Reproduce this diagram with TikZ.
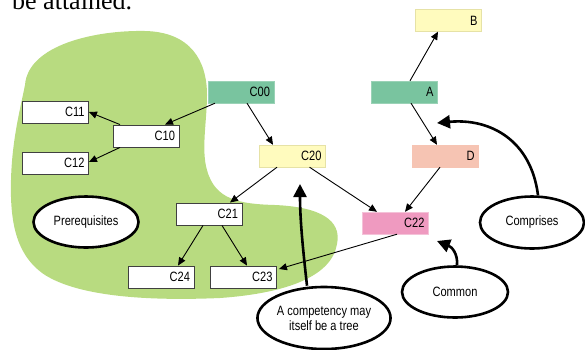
\documentclass[tikz,border=0pt]{standalone}
\usepackage{fontspec}
\setmainfont{Liberation Serif}
\newfontfamily\boxfont{Liberation Sans}[FakeStretch=0.82]
\usetikzlibrary{arrows.meta,shapes.geometric}

\definecolor{blobgreen}{HTML}{B8DB80}
\definecolor{tealbox}{HTML}{79C49F}
\definecolor{tealedge}{HTML}{9AD2B6}
\definecolor{yellowbox}{HTML}{FFFBBE}
\definecolor{yellowedge}{HTML}{E6E2A6}
\definecolor{salmonbox}{HTML}{F6C4B3}
\definecolor{pinkbox}{HTML}{EF9AC0}
\definecolor{pinkedge}{HTML}{F4C2D8}
\definecolor{boxgray}{HTML}{404040}

\begin{document}
\begin{tikzpicture}[x=1pt,y=-1pt,
  box/.style={minimum height=22pt, text width=58pt, align=right,
    inner xsep=4pt, inner ysep=2pt, font=\boxfont\fontsize{13.5}{14}\selectfont},
  wbox/.style={box, fill=white, draw=boxgray, line width=0.9pt},
  bubble/.style={ellipse, draw=black, line width=2.6pt, fill=white, inner sep=0pt,
    align=center, font=\boxfont\fontsize{13.5}{15}\selectfont},
  thin/.style={-{Triangle[length=8pt,width=7pt]}, line width=0.9pt},
  thick/.style={-{Triangle[length=13pt,width=13pt]}, line width=2.6pt}]

\useasboundingbox (0,0) rectangle (585,349);

%%%%%%%%%%%%%%%%%%%%%%%%%%%% text above %%%%%%%%%%%%%%%%%%%%
\node[anchor=base west, inner sep=0pt, font=\fontsize{26}{28}\selectfont] (caption) at (12,9) {be attained.};

%%%%%%%%%%%%%%%%%%%%%%%%%%%% prerequisite area %%%%%%%%%%%%%%%%%%%%
\fill[blobgreen] (25,85) .. controls (28,45) and (95,30) .. (145,31)
  .. controls (190,32) and (207,60) .. (207,95)
  .. controls (207,120) and (201,150) .. (207,170)
  .. controls (215,200) and (240,204) .. (275,205)
  .. controls (320,207) and (342,220) .. (337,244)
  .. controls (332,275) and (290,293) .. (220,298)
  .. controls (150,301) and (80,297) .. (45,275)
  .. controls (15,255) and (10,220) .. (11,180)
  .. controls (12,140) and (20,110) .. (25,85) -- cycle;

%%%%%%%%%%%%%%%%%%%%%%%%%%%% competencies %%%%%%%%%%%%%%%%%%%%
\node[box, fill=tealbox, draw=tealedge] (c00) at (241,92) {C00};
\node[wbox] (c11) at (55.5,112) {C11};
\node[wbox] (c10) at (146,136) {C10};
\node[wbox] (c12) at (55.5,163) {C12};
\node[box, fill=yellowbox, draw=yellowedge] (c20) at (292.5,156) {C20};
\node[wbox] (c21) at (209,214) {C21};
\node[wbox] (c24) at (161,277) {C24};
\node[wbox] (c23) at (243.5,277) {C23};
\node[box, fill=pinkbox, draw=pinkedge] (c22) at (395.5,223) {C22};

\node[box, fill=yellowbox, draw=yellowedge] (b) at (448.5,20.5) {B};
\node[box, fill=tealbox, draw=tealedge] (a) at (404.5,92) {A};
\node[box, fill=salmonbox, draw=salmonbox] (d) at (445.5,156) {D};

\draw[thin] ([xshift=-26pt]c00.south) -- ([xshift=19pt]c10.north);
\draw[thin] ([xshift=-26pt]c10.north) -- (c11.east);
\draw[thin] ([xshift=-26pt]c10.south) -- ([yshift=1pt]c12.east);
\draw[thin] ([xshift=6pt]c00.south) -- ([xshift=-19.5pt]c20.north);
\draw[thin] ([xshift=-15.5pt]c20.south) -- ([xshift=21pt]c21.north);
\draw[thin] ([xshift=17pt]c20.south) -- ([xshift=-18.5pt]c22.north);
\draw[thin] ([xshift=-6pt]c21.south) -- ([xshift=17pt]c24.north);
\draw[thin] ([xshift=13pt]c21.south) -- ([xshift=3.5pt]c23.north);
\draw[thin] ([xshift=1.5pt]c22.south) -- ([xshift=2pt,yshift=8pt]c23.east);

\draw[thin] ([xshift=5.5pt]a.north) -- ([xshift=-10.5pt]b.south);
\draw[thin] ([xshift=6.5pt]a.south) -- ([xshift=-8.5pt]d.north);
\draw[thin] ([xshift=-5.5pt]d.south) -- ([xshift=9.5pt]c22.north);

%%%%%%%%%%%%%%%%%%%%%%%%%%%% remarks %%%%%%%%%%%%%%%%%%%%
\node[bubble, minimum width=105pt, minimum height=51pt] (prereq) at (86,222) {Prerequisites};
\node[bubble, minimum width=104pt, minimum height=52pt] (comprises) at (532,222.5) {Comprises};
\node[bubble, minimum width=106pt, minimum height=51pt] (common) at (455,292) {Common};
\node[bubble, minimum width=130pt, minimum height=62pt] (tree) at (324,318) {A competency may\\itself be a tree};

\coordinate (comprisestip) at (437,123);
\coordinate (commontip) at (437,241);
\coordinate (treetip) at (300,184);

\draw[thick] ([xshift=6pt]comprises.north) .. controls (531,140) and (490,118) .. (comprisestip);
\draw[thick] ([xshift=2pt]common.north) .. controls (458,254) and (452,247) .. (commontip);
\draw[thick] ([xshift=-17pt]tree.north) .. controls (303,250) and (300,220) .. (treetip);

\end{tikzpicture}
\end{document}
